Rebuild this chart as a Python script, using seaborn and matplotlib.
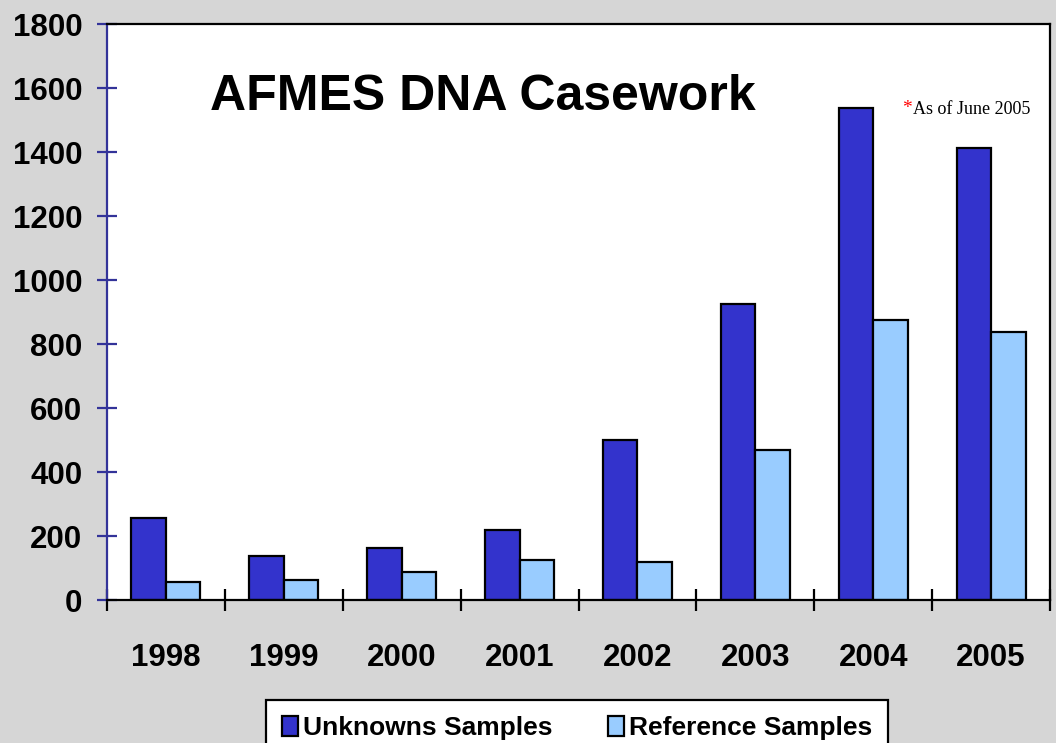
import matplotlib
matplotlib.use("Agg")
import matplotlib.pyplot as plt
import numpy as np
import pandas as pd
import seaborn as sns
from matplotlib.ticker import FixedLocator, MultipleLocator

# 図の値
years = ["1998", "1999", "2000", "2001", "2002", "2003", "2004", "2005"]
unknowns = [256, 138, 162, 219, 500, 925, 1537, 1412]
references = [57, 62, 87, 125, 119, 469, 876, 838]
series_names = ["Unknowns Samples", "Reference Samples"]
series_colors = ["#3333CC", "#99CCFF"]

df = pd.DataFrame({
    "year": years * 2,
    "count": unknowns + references,
    "series": [series_names[0]] * len(years) + [series_names[1]] * len(years),
})

sns.set_theme(style="white")
plt.rcParams["font.family"] = ["Liberation Sans", "DejaVu Sans"]
plt.rcParams["font.weight"] = "bold"
plt.rcParams["text.color"] = "black"
plt.rcParams["xtick.labelcolor"] = "black"
plt.rcParams["ytick.labelcolor"] = "black"

fig = plt.figure(figsize=(10.56, 7.43), dpi=100)
fig.patch.set_facecolor("#d6d6d6")
ax = fig.add_axes([107 / 1056, 1 - 600 / 743, 943 / 1056, 576 / 743])
ax.set_facecolor("white")

sns.barplot(data=df, x="year", y="count", hue="series", order=years,
            hue_order=series_names, palette=series_colors, saturation=1,
            width=0.585, gap=0, edgecolor="black", linewidth=1.6, ax=ax)

ax.set_ylim(0, 1800)
ax.set_xlim(-0.5, len(years) - 0.5)
ax.yaxis.set_major_locator(MultipleLocator(200))
ax.set_xlabel("")
ax.set_ylabel("")

# 軸の見た目
for side in ["top", "right", "bottom"]:
    ax.spines[side].set_color("black")
    ax.spines[side].set_linewidth(1.6)
ax.spines["left"].set_color("#333399")
ax.spines["left"].set_linewidth(1.6)

ax.tick_params(axis="y", which="major", direction="inout", length=14.5, width=1.6,
               color="#333399", pad=10.5, labelsize=22.5, left=True,
               labelcolor="black")
ax.tick_params(axis="x", which="major", length=0, pad=31, labelsize=22.5,
               labelcolor="black")
ax.xaxis.set_minor_locator(FixedLocator(np.arange(-0.5, len(years), 1.0)))
ax.tick_params(axis="x", which="minor", direction="inout", length=16.5, width=1.6,
               color="black", bottom=True)
for lab in ax.get_xticklabels() + ax.get_yticklabels():
    lab.set_fontweight("bold")

ax.text(0.109, 0.873, "AFMES DNA Casework", transform=ax.transAxes,
        ha="left", va="center", fontsize=36, fontweight="bold", color="black")
ax.text(0.843, 0.853, "*", transform=ax.transAxes, ha="left", va="center",
        fontsize=14, color="red", family=["Liberation Serif"], fontweight="normal")
ax.text(0.855, 0.851, "As of June 2005", transform=ax.transAxes, ha="left",
        va="center", fontsize=13, color="black", family=["Liberation Serif"],
        fontweight="normal")

handles, labels = ax.get_legend_handles_labels()
ax.get_legend().remove()
leg = fig.legend(handles, labels, loc="upper left",
                 bbox_to_anchor=(266 / 1056, 1 - 700 / 743), ncol=2,
                 frameon=True, fancybox=False, borderaxespad=0,
                 handlelength=0.6, handleheight=0.8, handletextpad=0.2,
                 columnspacing=2.1, borderpad=0.6,
                 prop={"weight": "bold", "size": 19})
for t in leg.get_texts():
    t.set_color("black")
leg.get_frame().set_edgecolor("black")
leg.get_frame().set_linewidth(1.6)
leg.get_frame().set_facecolor("white")
leg.get_frame().set_alpha(1)

fig.savefig("out.png", dpi=100, facecolor=fig.get_facecolor())
